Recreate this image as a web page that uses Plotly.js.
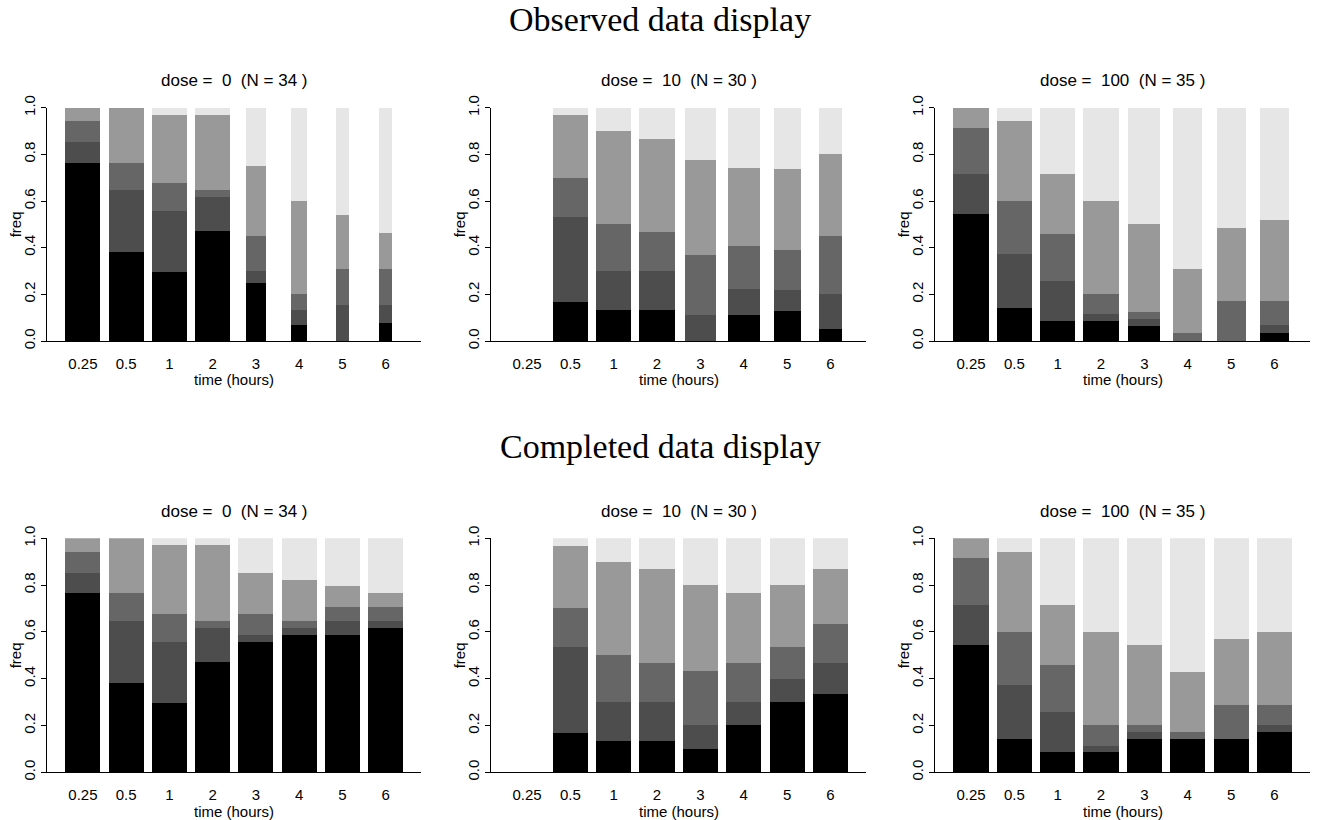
<!DOCTYPE html>
<html>
<head>
<meta charset="utf-8">
<script src="https://cdn.plot.ly/plotly-3.0.1.min.js"></script>
<style>html,body{margin:0;padding:0;background:#fff;}#chart{width:1320px;height:820px;}</style>
</head>
<body>
<div id="chart"></div>
<script>
// ---- data ----
const timeLabels = ['0.25', '0.5', '1', '2', '3', '4', '5', '6'];
const doses = ['0', '10', '100'];
const doseN = [34, 30, 35];
const rowTitles = ['Observed data display', 'Completed data display'];

// counts per response category (rows: category 1..5, columns: time)
const obsDose0 = [
  [26, 13, 10, 16, 5, 1, 0, 1],
  [3, 9, 9, 5, 1, 1, 2, 1],
  [3, 4, 4, 1, 3, 1, 2, 2],
  [2, 8, 10, 11, 6, 6, 3, 2],
  [0, 0, 1, 1, 5, 6, 6, 7]
];
const obsDose10 = [
  [0, 5, 4, 4, 0, 3, 3, 1],
  [0, 11, 5, 5, 3, 3, 2, 3],
  [0, 5, 6, 5, 7, 5, 4, 5],
  [0, 8, 12, 12, 11, 9, 8, 7],
  [0, 1, 3, 4, 6, 7, 6, 4]
];
const obsDose100 = [
  [19, 5, 3, 3, 2, 0, 0, 1],
  [6, 8, 6, 1, 1, 0, 0, 1],
  [7, 8, 7, 3, 1, 1, 5, 3],
  [3, 12, 9, 14, 12, 8, 9, 10],
  [0, 2, 10, 14, 16, 20, 15, 14]
];
const compDose0 = [
  [26, 13, 10, 16, 19, 20, 20, 21],
  [3, 9, 9, 5, 1, 1, 2, 1],
  [3, 4, 4, 1, 3, 1, 2, 2],
  [2, 8, 10, 11, 6, 6, 3, 2],
  [0, 0, 1, 1, 5, 6, 7, 8]
];
const compDose10 = [
  [0, 5, 4, 4, 3, 6, 9, 10],
  [0, 11, 5, 5, 3, 3, 3, 4],
  [0, 5, 6, 5, 7, 5, 4, 5],
  [0, 8, 12, 12, 11, 9, 8, 7],
  [0, 1, 3, 4, 6, 7, 6, 4]
];
const compDose100 = [
  [19, 5, 3, 3, 5, 5, 5, 6],
  [6, 8, 6, 1, 1, 0, 0, 1],
  [7, 8, 7, 3, 1, 1, 5, 3],
  [3, 12, 9, 14, 12, 9, 10, 11],
  [0, 2, 10, 14, 16, 20, 15, 14]
];

// ---- styling ----
const catColors = ['#000000', '#4d4d4d', '#666666', '#999999', '#e6e6e6'];
const sans = 'Liberation Sans, Arial, Helvetica, sans-serif';
const serif = 'Liberation Serif, Times New Roman, serif';
const fullWidth = 0.81;

const panels = [
  [obsDose0, obsDose10, obsDose100],
  [compDose0, compDose10, compDose100]
];

const W = 1320, H = 820;
const colX = [[47, 421], [491, 866], [935, 1310]];
const rowY = [[107.7, 341], [538.3, 772.3]];

const traces = [];
const layout = {
  width: W, height: H,
  margin: {l: 0, r: 0, t: 0, b: 0},
  paper_bgcolor: '#fff', plot_bgcolor: '#fff',
  barmode: 'stack',
  showlegend: false,
  font: {family: sans, size: 15, color: '#000'},
  annotations: []
};

let k = 0;
for (let r = 0; r < 2; r++) {
  for (let c = 0; c < 3; c++) {
    k++;
    const xa = 'x' + (k === 1 ? '' : k), ya = 'y' + (k === 1 ? '' : k);
    const counts = panels[r][c];
    const totals = timeLabels.map((_, t) => counts.reduce((s, row) => s + row[t], 0));
    const widths = totals.map(n => fullWidth * n / doseN[c]);
    for (let cat = 0; cat < 5; cat++) {
      traces.push({
        type: 'bar',
        x: timeLabels,
        y: counts[cat].map((v, t) => totals[t] > 0 ? v / totals[t] : 0),
        width: widths,
        marker: {color: catColors[cat], line: {width: 0}},
        xaxis: xa, yaxis: ya,
        hoverinfo: 'skip'
      });
    }
    const xk = 'xaxis' + (k === 1 ? '' : k), yk = 'yaxis' + (k === 1 ? '' : k);
    layout[xk] = {
      domain: [colX[c][0] / W, colX[c][1] / W],
      anchor: ya,
      type: 'category',
      categoryorder: 'array', categoryarray: timeLabels,
      range: [-0.83, 7.82],
      showline: true, linecolor: '#000', linewidth: 1,
      ticks: '', showgrid: false, zeroline: false,
      tickfont: {family: sans, size: 15, color: '#000'},
      ticklabelstandoff: 9,
      fixedrange: true
    };
    layout[yk] = {
      domain: [1 - rowY[r][1] / H, 1 - rowY[r][0] / H],
      anchor: xa,
      range: [0, 1],
      showline: true, linecolor: '#000', linewidth: 1,
      ticks: 'outside', ticklen: 5, tickcolor: '#000',
      tickvals: [0, 0.2, 0.4, 0.6, 0.8, 1.0],
      tickformat: '.1f',
      tickangle: -90,
      showgrid: false, zeroline: false,
      tickfont: {family: sans, size: 15, color: '#000'},
      fixedrange: true
    };
    // panel title
    layout.annotations.push({
      text: 'dose =\u00a0 ' + doses[c] + '\u00a0 (N = ' + doseN[c] + ' )',
      xref: xa + ' domain', yref: ya + ' domain', x: 0.5, y: 1,
      xanchor: 'center', yanchor: 'middle', yshift: 27, showarrow: false,
      font: {family: sans, size: 17, color: '#000'}
    });
    // x title
    layout.annotations.push({
      text: 'time (hours)',
      xref: xa + ' domain', yref: ya + ' domain', x: 0.5, y: 0,
      xanchor: 'center', yanchor: 'middle', yshift: -39, showarrow: false,
      font: {family: sans, size: 15, color: '#000'}
    });
    // y title
    layout.annotations.push({
      text: 'freq',
      xref: xa + ' domain', yref: ya + ' domain', x: 0, y: 0.5,
      xanchor: 'center', yanchor: 'middle', xshift: -32, textangle: -90, showarrow: false,
      font: {family: sans, size: 15, color: '#000'}
    });
  }
}
// row titles
layout.annotations.push({
  text: rowTitles[0], xref: 'paper', yref: 'paper', x: 0.5, y: 1 - 19 / H,
  xanchor: 'center', yanchor: 'middle', showarrow: false,
  font: {family: serif, size: 34, color: '#000'}
});
layout.annotations.push({
  text: rowTitles[1], xref: 'paper', yref: 'paper', x: 0.5, y: 1 - 446 / H,
  xanchor: 'center', yanchor: 'middle', showarrow: false,
  font: {family: serif, size: 34, color: '#000'}
});

Plotly.newPlot('chart', traces, layout, {displayModeBar: false, staticPlot: true});
</script>
</body>
</html>
